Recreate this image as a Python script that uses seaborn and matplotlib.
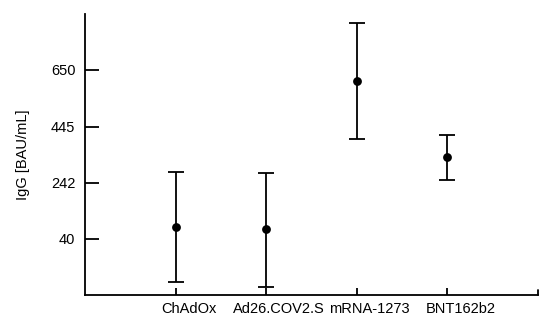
import numpy as np
import pandas as pd
import matplotlib
matplotlib.use('Agg')
import matplotlib.pyplot as plt
import matplotlib.transforms as mtransforms
import seaborn as sns

# values
vaccines = ['ChAdOx', 'Ad26.COV2.S', 'mRNA-1273', 'BNT162b2']
igg_mean = [84, 75, 610, 336]
igg_lower = [-116, -133, 402, 253]
igg_upper = [283, 277, 818, 414]
y_ticks = [40, 242, 445, 650]

df = pd.DataFrame({'vaccine': vaccines, 'mean': igg_mean,
                   'lower': igg_lower, 'upper': igg_upper})
df['pos'] = np.arange(1, len(vaccines) + 1)

sns.set_style('ticks')
plt.rcParams['font.family'] = ['Liberation Sans', 'DejaVu Sans']
plt.rcParams['text.color'] = 'black'
plt.rcParams['axes.labelcolor'] = 'black'
plt.rcParams['xtick.color'] = 'black'
plt.rcParams['ytick.color'] = 'black'
plt.rcParams['axes.edgecolor'] = 'black'

fig = plt.figure(figsize=(5.5, 3.23), dpi=100)
ax = fig.add_axes([0.1545, 0.0867, 0.8235, 0.87])

err = [df['mean'] - df['lower'], df['upper'] - df['mean']]
ax.errorbar(df['pos'], df['mean'], yerr=err, fmt='none', ecolor='black',
            elinewidth=1.3, capsize=6, capthick=1.3, zorder=2)
sns.scatterplot(data=df, x='pos', y='mean', ax=ax, color='black', s=40,
                marker='o', edgecolor='black', linewidth=0, zorder=3)

ax.set_xlim(0, 5)
ax.set_ylim(-162, 851)
ax.set_xticks(df['pos'])
ax.set_xticklabels(vaccines, fontsize=10.5)
ax.set_yticks(y_ticks)
ax.set_yticklabels([str(t) for t in y_ticks], fontsize=10.5)
ax.set_xlabel('')
ax.set_ylabel('IgG [BAU/mL]', fontsize=10.5, labelpad=15)

sns.despine(ax=ax)
for s in ['left', 'bottom']:
    ax.spines[s].set_linewidth(1.3)
ax.tick_params(axis='y', direction='in', length=10, width=1.3, pad=7)
ax.tick_params(axis='x', direction='in', length=5, width=1.3, pad=5)

# labels in the original sit a little right of their ticks
shift = mtransforms.ScaledTranslation(13 / 100, 0, fig.dpi_scale_trans)
for lab in ax.xaxis.get_majorticklabels():
    lab.set_transform(lab.get_transform() + shift)

# small closing tick at right end of x axis
ax.plot([5, 5], [-162, -162 + 18], color='black', lw=1.3, clip_on=False)

fig.savefig('out.png', dpi=100)
